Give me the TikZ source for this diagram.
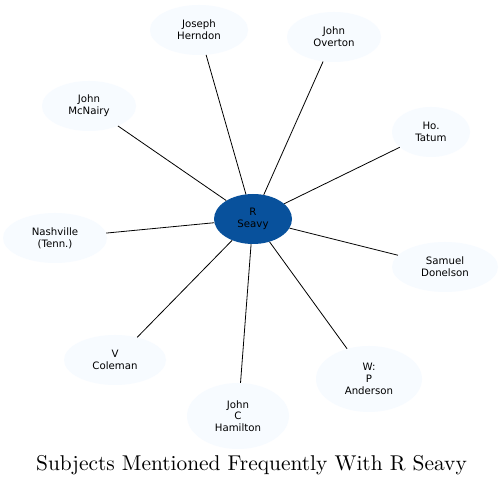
\documentclass[tikz,border=0pt]{standalone}
\usepackage{fontspec}
\newfontfamily\labelfont{DejaVu Sans}
\newfontfamily\titlefont{lmroman10-regular}[Extension=.otf]
\usetikzlibrary{shapes.geometric}
\definecolor{pale}{HTML}{F7FBFF}
\definecolor{dark}{HTML}{08519C}
\tikzset{
  subj/.style={ellipse, fill=pale, inner sep=0pt, align=center,
    font=\labelfont\fontsize{10.2}{11.8}\selectfont},
  hub/.style={subj, fill=dark},
  link/.style={draw=black, line width=0.8pt}
}
\begin{document}
\begin{tikzpicture}[x=1pt,y=-1pt]
\useasboundingbox[fill=white] (0,0) rectangle (504,486);
\node[hub, minimum width=78pt, minimum height=50pt] (seavy) at (253,219) {R\\Seavy};
\node[subj, minimum width=98pt, minimum height=50pt] (herndon) at (199,30) {Joseph\\Herndon};
\node[subj, minimum width=94pt, minimum height=50pt] (overton) at (334,37) {John\\Overton};
\node[subj, minimum width=94pt, minimum height=50pt] (mcnairy) at (89,106) {John\\McNairy};
\node[subj, minimum width=78pt, minimum height=50pt] (tatum) at (431,132) {Ho.\\Tatum};
\node[subj, minimum width=104pt, minimum height=50pt] (nashville) at (55,238) {Nashville\\(Tenn.)};
\node[subj, minimum width=106pt, minimum height=50pt] (donelson) at (445,267) {Samuel\\Donelson};
\node[subj, minimum width=102pt, minimum height=50pt] (coleman) at (115,360) {V\\Coleman};
\node[subj, minimum width=102pt, minimum height=66pt] (hamilton) at (238,416) {John\\C\\Hamilton};
\node[subj, minimum width=106pt, minimum height=66pt] (anderson) at (369,379) {W:\\P\\Anderson};
\foreach \n in {herndon,overton,mcnairy,tatum,nashville,donelson,coleman,hamilton,anderson}
  \draw[link] (seavy) -- (\n);
\node[anchor=base, inner sep=0pt, font=\titlefont\fontsize{21.4}{25}\selectfont] (title) at (251.5,471) {Subjects Mentioned Frequently With R Seavy};
\end{tikzpicture}
\end{document}
